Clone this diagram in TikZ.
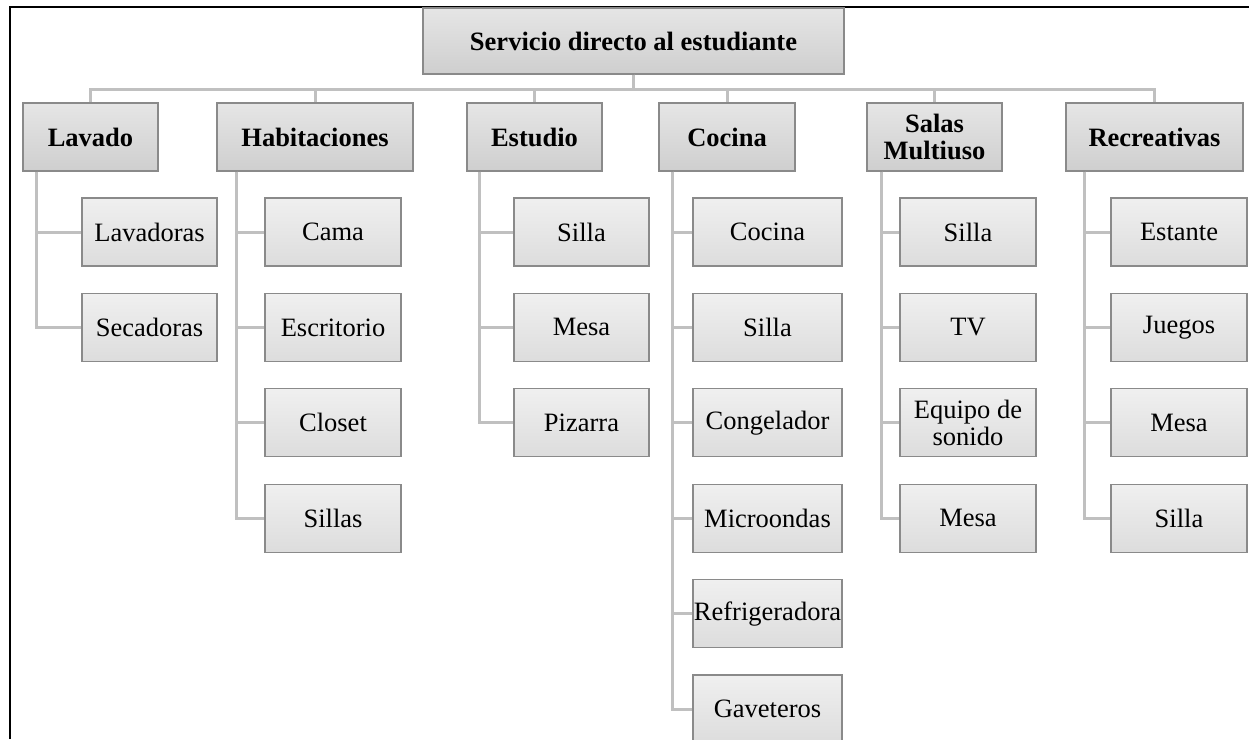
\documentclass[tikz,border=0pt]{standalone}
\usepackage{fontspec}
\setmainfont{Liberation Serif}
\usetikzlibrary{positioning}
\definecolor{boxline}{HTML}{8A8A8A}
\definecolor{linkgray}{HTML}{C0C0C0}
\tikzset{
  box/.style={draw=boxline, line width=1.2pt, minimum height=68pt, inner sep=1pt, align=center,
    font=\fontsize{26.5}{27}\selectfont},
  head/.style={box, top color=gray!20, bottom color=gray!38, font=\fontsize{26.5}{27}\selectfont\bfseries},
  item/.style={box, top color=gray!12, bottom color=gray!27},
  link/.style={draw=linkgray, line width=3pt}
}
\begin{document}
\begin{tikzpicture}[x=1pt,y=-1pt]
      \useasboundingbox (0,0) rectangle (1249,739);
      \draw[line width=2.2pt] (10,739) -- (10,7) -- (1249,7);
      \node[head, minimum width=421pt, minimum height=66pt] (root) at (633.5,41) {Servicio directo al estudiante};
      \node[head, minimum width=135pt] (lav) at (90.5,137) {Lavado};
      \node[head, minimum width=196pt] (hab) at (315,137) {Habitaciones};
      \node[head, minimum width=135pt] (est) at (534.5,137) {Estudio};
      \node[head, minimum width=136pt] (coc) at (727,137) {Cocina};
      \node[head, minimum width=135pt] (sal) at (934.5,137) {Salas\\Multiuso};
      \node[head, minimum width=177pt] (rec) at (1154.5,137) {Recreativas};
      \foreach \n in {lav,hab,est,coc,sal,rec}
        \draw[link] (root.south) -- ++(0,15) -| (\n.north);
      \foreach \t [count=\i] in {Lavadoras,Secadoras}
        \node[item, minimum width=135pt] (lav\i) at (149.5,{232+95.4*(\i-1)}) {\t};
      \foreach \t [count=\i] in {Cama,Escritorio,Closet,Sillas}
        \node[item, minimum width=136pt] (hab\i) at (333,{232+95.4*(\i-1)}) {\t};
      \foreach \t [count=\i] in {Silla,Mesa,Pizarra}
        \node[item, minimum width=135pt] (est\i) at (581.5,{232+95.4*(\i-1)}) {\t};
      \foreach \t [count=\i] in {Cocina,Silla,Congelador,Microondas,Refrigeradora,Gaveteros}
        \node[item, minimum width=149pt] (coc\i) at (767.5,{232+95.4*(\i-1)}) {\t};
      \foreach \t [count=\i] in {Silla,TV,{Equipo de\\sonido},Mesa}
        \node[item, minimum width=136pt] (sal\i) at (968,{232+95.4*(\i-1)}) {\t};
      \foreach \t [count=\i] in {Estante,Juegos,Mesa,Silla}
        \node[item, minimum width=136pt] (rec\i) at (1179,{232+95.4*(\i-1)}) {\t};
      \foreach \i in {1,2} \draw[link] (lav.south west) ++(14,0) |- (lav\i.west);
      \foreach \i in {1,...,4} \draw[link] (hab.south west) ++(20,0) |- (hab\i.west);
      \foreach \i in {1,...,3} \draw[link] (est.south west) ++(13,0) |- (est\i.west);
      \foreach \i in {1,...,6} \draw[link] (coc.south west) ++(14,0) |- (coc\i.west);
      \foreach \i in {1,...,4} \draw[link] (sal.south west) ++(15,0) |- (sal\i.west);
      \foreach \i in {1,...,4} \draw[link] (rec.south west) ++(19,0) |- (rec\i.west);
\end{tikzpicture}
\end{document}
